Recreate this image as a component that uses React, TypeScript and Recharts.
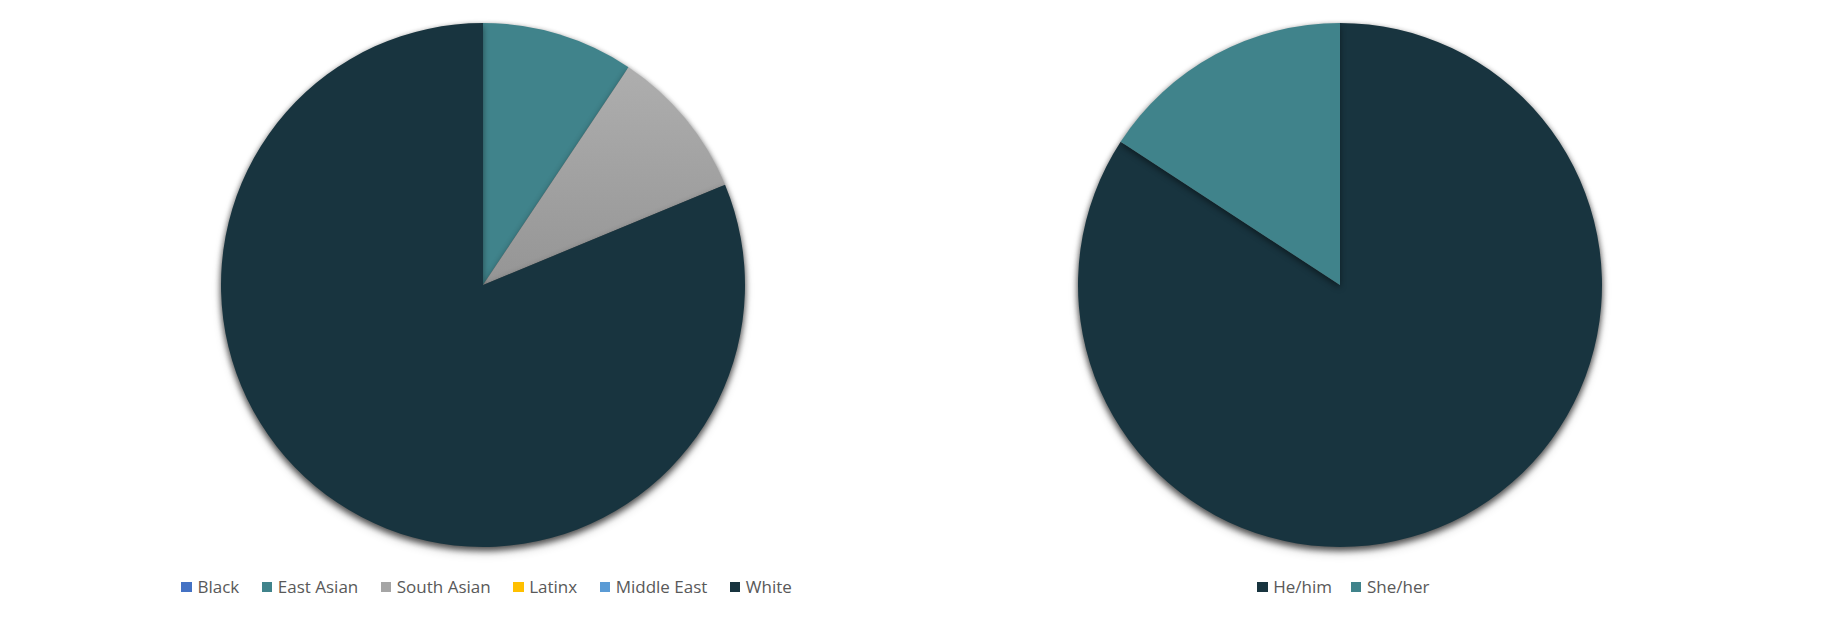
import React from 'react';
import { PieChart, Pie, Cell, Legend } from 'recharts';

// ethnicity breakdown (left pie)
const ethnicityNames = ['Black', 'East Asian', 'South Asian', 'Latinx', 'Middle East', 'White'];
const ethnicityValues = [0, 3, 3, 0, 0, 26];
const ethnicityColors = ['#4472c4', '#40838b', 'url(#southAsianGrad)', '#ffc000', '#5b9bd5', '#18343f'];
const ethnicitySwatches = ['#4472c4', '#40838b', '#a5a5a5', '#ffc000', '#5b9bd5', '#18343f'];

// pronouns breakdown (right pie)
const pronounNames = ['He/him', 'She/her'];
const pronounValues = [16, 3];
const pronounColors = ['#18343f', '#40838b'];

const ethnicityData = ethnicityNames.map((name, i) => ({ name, value: ethnicityValues[i] }));
const pronounData = pronounNames.map((name, i) => ({ name, value: pronounValues[i] }));

const SwatchLegend = ({ names, colors, gap }: { names: string[]; colors: string[]; gap: number }) => (
    <div style={{ display: 'flex', justifyContent: 'center', alignItems: 'center', height: 24, whiteSpace: 'nowrap' }}>
        {names.map((n, i) => (
            <div key={n} style={{ display: 'flex', flexShrink: 0, alignItems: 'center', marginRight: i < names.length - 1 ? gap : 0 }}>
                <span style={{ width: 10.5, height: 10.5, background: colors[i], display: 'inline-block', marginRight: 5.5 }} />
                <span style={{ fontFamily: '"Open Sans", sans-serif', fontSize: 17, color: '#595959', lineHeight: '24px' }}>{n}</span>
            </div>
        ))}
    </div>
);

export default function App() {
    return (
        <div style={{ position: 'relative', width: 1824, height: 618, background: '#fff' }}>
            <style>{`body{margin:0}.pie-shadow{filter:drop-shadow(0px 3px 3px rgba(0,0,0,0.45));}`}</style>
            <div style={{ position: 'absolute', left: 0, top: 0 }}>
                <PieChart width={912} height={618} margin={{ top: 0, right: 0, bottom: 0, left: 0 }}>
                    <defs>
                        <linearGradient id="southAsianGrad" x1="0" y1="0" x2="0" y2="1">
                            <stop offset="0%" stopColor="#aeaeae" />
                            <stop offset="100%" stopColor="#959595" />
                        </linearGradient>
                    </defs>
                    <Pie
                        data={ethnicityData}
                        dataKey="value"
                        nameKey="name"
                        cx={483}
                        cy={285}
                        outerRadius={262}
                        startAngle={90}
                        endAngle={-270}
                        stroke="none"
                        className="pie-shadow"
                        isAnimationActive={false}
                    >
                        {ethnicityData.map((d, i) => (
                            <Cell key={d.name} fill={ethnicityColors[i]} />
                        ))}
                    </Pie>
                    <Legend
                        wrapperStyle={{ left: 86.7, width: 800, top: 575 }}
                        content={() => <SwatchLegend names={ethnicityNames} colors={ethnicitySwatches} gap={22.5} />}
                    />
                </PieChart>
            </div>
            <div style={{ position: 'absolute', left: 912, top: 0 }}>
                <PieChart width={912} height={618} margin={{ top: 0, right: 0, bottom: 0, left: 0 }}>
                    <Pie
                        data={pronounData}
                        dataKey="value"
                        nameKey="name"
                        cx={428}
                        cy={285}
                        outerRadius={262}
                        startAngle={90}
                        endAngle={-270}
                        stroke="none"
                        className="pie-shadow"
                        isAnimationActive={false}
                    >
                        {pronounData.map((d, i) => (
                            <Cell key={d.name} fill={pronounColors[i]} />
                        ))}
                    </Pie>
                    <Legend
                        wrapperStyle={{ left: 231.3, width: 400, top: 575 }}
                        content={() => <SwatchLegend names={pronounNames} colors={pronounColors} gap={19} />}
                    />
                </PieChart>
            </div>
        </div>
    );
}
